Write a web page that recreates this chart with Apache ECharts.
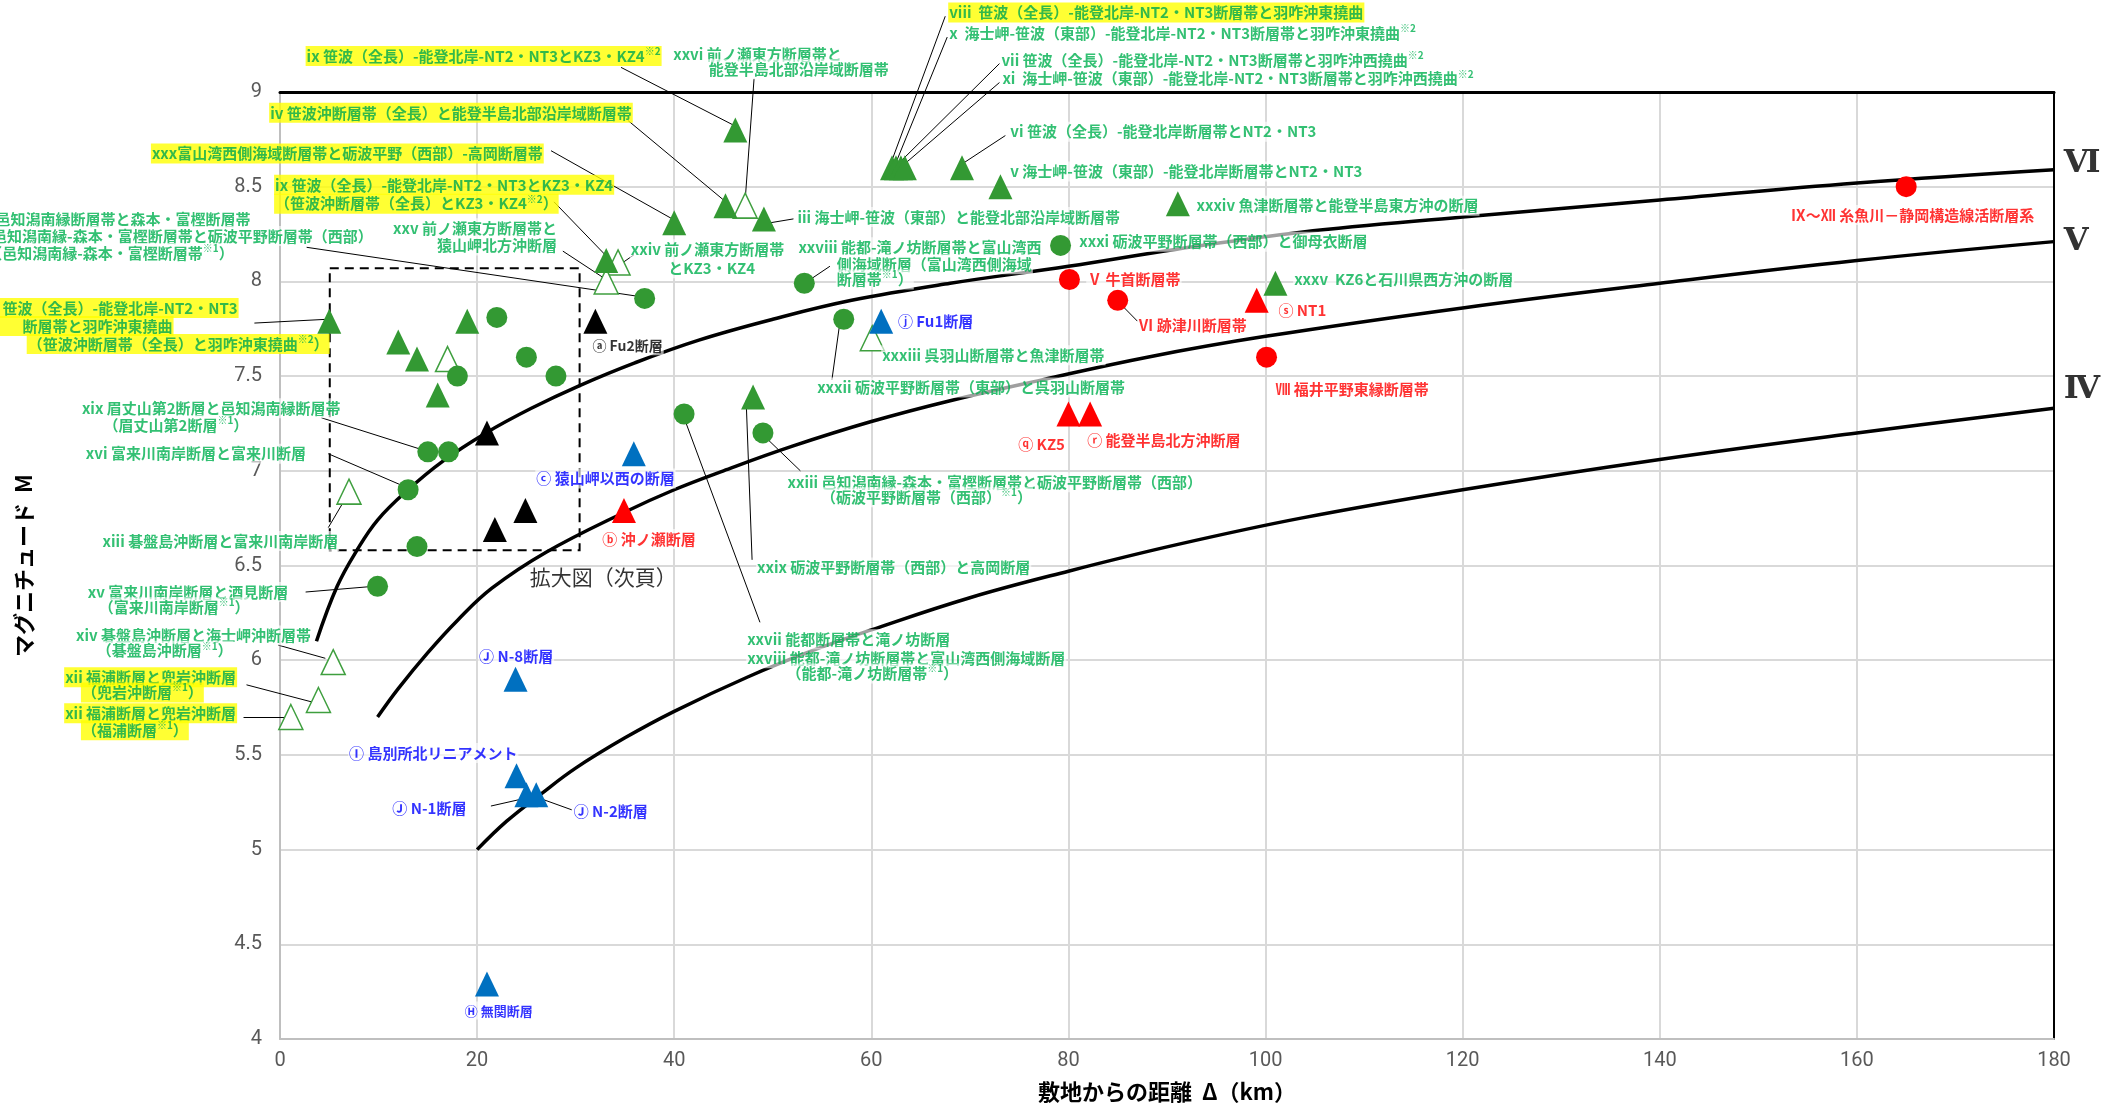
<!DOCTYPE html>
<html>
<head>
<meta charset="utf-8">
<script src="https://cdn.jsdelivr.net/npm/echarts@6/dist/echarts.min.js"></script>
<style>
  html, body { margin: 0; padding: 0; background: #fff; }
  #chart { width: 2105px; height: 1109px; }
</style>
</head>
<body>
<div id="chart"></div>
<script>
/* M-Δ図 : 検討用地震の候補（マグニチュード vs 敷地からの距離） */

var X_MIN = 0, X_MAX = 180, X_STEP = 20
var Y_MIN = 4, Y_MAX = 9, Y_STEP = 0.5

/* ── 点データ [Δ(km), M] ─────────────────────────────────────────────── */
var greenTriangles = [
  [46.2, 8.80], [62.1, 8.60], [62.5, 8.60], [63.0, 8.60], [63.4, 8.60],
  [69.2, 8.60], [73.1, 8.50], [91.1, 8.41], [40.0, 8.31], [45.2, 8.40],
  [49.1, 8.33], [33.1, 8.11], [5.0, 7.79], [12.0, 7.68], [13.9, 7.59],
  [19.0, 7.79], [16.0, 7.40], [48.0, 7.39], [101.0, 7.99]
]
var greenOpenTriangles = [
  [47.2, 8.40], [34.3, 8.10], [33.1, 8.00], [17.0, 7.59], [60.1, 7.70],
  [7.0, 6.89], [5.4, 5.99], [3.9, 5.79], [1.1, 5.70]
]
var greenCircles = [
  [79.2, 8.19], [53.2, 7.99], [57.2, 7.80], [37.0, 7.91], [22.0, 7.81],
  [25.0, 7.60], [28.0, 7.50], [18.0, 7.50], [41.0, 7.30], [49.0, 7.20],
  [15.0, 7.10], [17.1, 7.10], [13.0, 6.90], [13.9, 6.60], [9.9, 6.39]
]
var blackTriangles = [[32.0, 7.79], [21.0, 7.20], [24.9, 6.79], [21.8, 6.69]]
var blueTriangles = [
  [61.0, 7.79], [35.9, 7.09], [23.9, 5.90], [24.0, 5.39],
  [25.0, 5.29], [26.0, 5.29], [21.0, 4.29]
]
var redTriangles = [[34.9, 6.79], [80.0, 7.30], [82.2, 7.30], [99.1, 7.90]]
var redCircles = [[80.1, 8.01], [85.0, 7.90], [100.1, 7.60], [165.0, 8.50]]

/* ── 震度曲線 ──────────────────────────────────────────────────────────── */
var curveVI = [
  [3.7, 6.10], [5.8, 6.39], [7.8, 6.58], [9.9, 6.74], [13, 6.90], [16.5, 7.05],
  [20.9, 7.20], [25.5, 7.33], [30.4, 7.45], [36, 7.57], [42.5, 7.69], [50, 7.80],
  [58, 7.90], [68, 7.99], [80, 8.08], [91, 8.17], [103.6, 8.26], [120, 8.34],
  [140, 8.43], [160, 8.52], [180, 8.59]
]
var curveV = [
  [9.9, 5.70], [12, 5.85], [15, 6.04], [18, 6.21], [21.5, 6.38], [27, 6.57],
  [34.9, 6.78], [40, 6.90], [45, 7.00], [52, 7.13], [60, 7.26], [68, 7.37],
  [77.3, 7.48], [88, 7.60], [100, 7.71], [120, 7.86], [140, 7.99], [160, 8.11],
  [180, 8.21]
]
var curveIV = [
  [20, 5.00], [23, 5.15], [26.4, 5.29], [30, 5.43], [35, 5.59], [40, 5.73],
  [47.4, 5.91], [54, 6.05], [60, 6.16], [70, 6.33], [80, 6.47], [91, 6.61],
  [103.6, 6.75], [120, 6.90], [140, 7.06], [160, 7.20], [180, 7.33]
]

/* ── 引出線 [x1, y1, x2, y2] ──────────────────────────────────────────── */
var leaders = [
  [34.6, 9.13, 46.2, 8.82], [48.1, 9.07, 47.2, 8.43],
  [67.5, 9.40, 62.1, 8.64], [67.7, 9.29, 62.6, 8.64],
  [73.0, 9.15, 63.1, 8.64], [73.0, 9.05, 63.6, 8.63],
  [73.6, 8.77, 69.5, 8.63], [52.1, 8.33, 49.8, 8.31],
  [55.8, 8.08, 53.8, 8.01], [35.9, 8.14, 34.8, 8.10],
  [28.7, 8.16, 32.8, 8.02], [27.8, 8.42, 33.0, 8.14],
  [35.3, 8.85, 45.0, 8.43], [27.5, 8.69, 39.8, 8.33],
  [2.7, 8.18, 36.5, 7.92], [-2.6, 7.78, 4.8, 7.80],
  [4.2, 7.28, 14.5, 7.11], [4.9, 7.09, 12.5, 6.92],
  [4.9, 6.70, 6.6, 6.85], [2.6, 6.36, 9.5, 6.39],
  [-0.2, 6.08, 4.6, 6.01], [-3.4, 5.87, 3.2, 5.78],
  [-3.7, 5.70, 0.6, 5.70], [21.4, 5.23, 24.8, 5.27],
  [29.6, 5.21, 26.4, 5.27], [87.0, 7.79, 85.3, 7.88],
  [56.0, 7.48, 56.8, 7.78], [52.8, 7.00, 49.2, 7.18],
  [47.9, 6.53, 47.3, 7.37], [48.7, 6.20, 41.0, 7.28]
]

/* ── 注記 [Δ, M, 文字, 種類, 揃え] ────────────────────────────────────── */
var labels = [
  [2.6, 9.19, 'ix 笹波（全長）-能登北岸-NT2・NT3とKZ3・KZ4※2', 'gh'],
  [39.8, 9.20, 'xxvi 前ノ瀬東方断層帯と', 'g'],
  [43.4, 9.12, '能登半島北部沿岸域断層帯', 'g'],
  [67.8, 9.42, 'viii  笹波（全長）-能登北岸-NT2・NT3断層帯と羽咋沖東撓曲', 'gh'],
  [67.8, 9.31, 'x  海士岬-笹波（東部）-能登北岸-NT2・NT3断層帯と羽咋沖東撓曲※2', 'g'],
  [73.1, 9.17, 'vii 笹波（全長）-能登北岸-NT2・NT3断層帯と羽咋沖西撓曲※2', 'g'],
  [73.2, 9.07, 'xi  海士岬-笹波（東部）-能登北岸-NT2・NT3断層帯と羽咋沖西撓曲※2', 'g'],
  [74.0, 8.79, 'vi 笹波（全長）-能登北岸断層帯とNT2・NT3', 'g'],
  [74.0, 8.58, 'v 海士岬-笹波（東部）-能登北岸断層帯とNT2・NT3', 'g'],
  [92.9, 8.40, 'xxxiv 魚津断層帯と能登半島東方沖の断層', 'g'],
  [52.4, 8.34, 'iii 海士岬-笹波（東部）と能登北部沿岸域断層帯', 'g'],
  [81.0, 8.21, 'xxxi 砺波平野断層帯（西部）と御母衣断層', 'g'],
  [52.5, 8.18, 'xxviii 能都-滝ノ坊断層帯と富山湾西', 'g'],
  [56.4, 8.09, '側海域断層（富山湾西側海域', 'g'],
  [56.4, 8.01, '断層帯※1）', 'g'],
  [35.5, 8.17, 'xxiv 前ノ瀬東方断層帯', 'g'],
  [39.3, 8.07, 'とKZ3・KZ4', 'g'],
  [28.2, 8.28, 'xxv 前ノ瀬東方断層帯と', 'g', 'right'],
  [28.2, 8.19, '猿山岬北方沖断層', 'g', 'right'],
  [-0.6, 8.51, 'ix 笹波（全長）-能登北岸-NT2・NT3とKZ3・KZ4', 'gh'],
  [-0.6, 8.41, '（笹波沖断層帯（全長）とKZ3・KZ4※2）', 'gh'],
  [-1.1, 8.89, 'iv 笹波沖断層帯（全長）と能登半島北部沿岸域断層帯', 'gh'],
  [-13.1, 8.675, 'xxx富山湾西側海域断層帯と砺波平野（西部）-高岡断層帯', 'gh'],
  [-2.9, 8.33, '邑知潟南縁断層帯と森本・富樫断層帯', 'g', 'right'],
  [9.5, 8.24, '邑知潟南縁-森本・富樫断層帯と砺波平野断層帯（西部）', 'g', 'right'],
  [-4.6, 8.15, '（邑知潟南縁-森本・富樫断層帯※1）', 'g', 'right'],
  [-4.2, 7.86, 'ii  笹波（全長）-能登北岸-NT2・NT3', 'gh', 'right'],
  [-10.8, 7.765, '　　　断層帯と羽咋沖東撓曲', 'gh', 'right'],
  [-25.7, 7.67, '（笹波沖断層帯（全長）と羽咋沖東撓曲※2）', 'gh'],
  [-20.2, 7.33, 'xix 眉丈山第2断層と邑知潟南縁断層帯', 'g'],
  [-18.0, 7.24, '（眉丈山第2断層※1）', 'g'],
  [-19.8, 7.09, 'xvi 富来川南岸断層と富来川断層', 'g'],
  [-18.1, 6.63, 'xiii 碁盤島沖断層と富来川南岸断層', 'g'],
  [-19.6, 6.36, 'xv 富来川南岸断層と酒見断層', 'g'],
  [-18.5, 6.28, '（富来川南岸断層※1）', 'g'],
  [-20.8, 6.13, 'xiv 碁盤島沖断層と海士岬沖断層帯', 'g'],
  [-18.7, 6.05, '（碁盤島沖断層※1）', 'g'],
  [-21.9, 5.91, 'xii 福浦断層と兜岩沖断層', 'gh'],
  [-20.2, 5.83, '（兜岩沖断層※1）', 'gh'],
  [-21.9, 5.72, 'xii 福浦断層と兜岩沖断層', 'gh'],
  [-20.2, 5.63, '（福浦断層※1）', 'gh'],
  [61.0, 7.61, 'xxxiii 呉羽山断層帯と魚津断層帯', 'g'],
  [54.4, 7.44, 'xxxii 砺波平野断層帯（東部）と呉羽山断層帯', 'g'],
  [51.4, 6.94, 'xxiii 邑知潟南縁-森本・富樫断層帯と砺波平野断層帯（西部）', 'g'],
  [54.8, 6.86, '（砺波平野断層帯（西部）※1）', 'g'],
  [48.3, 6.49, 'xxix 砺波平野断層帯（西部）と高岡断層', 'g'],
  [47.3, 6.11, 'xxvii 能都断層帯と滝ノ坊断層', 'g'],
  [47.3, 6.01, 'xxviii 能都-滝ノ坊断層帯と富山湾西側海域断層', 'g'],
  [51.3, 5.93, '（能都-滝ノ坊断層帯※1）', 'g'],
  [102.8, 8.01, 'xxxv  KZ6と石川県西方沖の断層', 'g'],
  [62.6, 7.79, 'ⓙ Fu1断層', 'b'],
  [25.9, 6.96, 'ⓒ 猿山岬以西の断層', 'b'],
  [20.1, 6.02, 'Ⓙ N-8断層', 'b'],
  [6.9, 5.51, 'Ⓘ 島別所北リニアメント', 'b'],
  [11.3, 5.22, 'Ⓙ N-1断層', 'b'],
  [29.7, 5.20, 'Ⓙ N-2断層', 'b'],
  [22.2, 4.15, 'Ⓗ 無関断層', 'bs', 'center'],
  [32.6, 6.64, 'ⓑ 沖ノ瀬断層', 'r'],
  [81.8, 8.01, 'Ⅴ 牛首断層帯', 'r'],
  [87.0, 7.77, 'Ⅵ 跡津川断層帯', 'r'],
  [101.2, 7.85, 'ⓢ NT1', 'r'],
  [100.9, 7.43, 'Ⅷ 福井平野東縁断層帯', 'r'],
  [74.8, 7.14, 'ⓠ KZ5', 'r'],
  [81.8, 7.16, 'ⓡ 能登半島北方沖断層', 'r'],
  [153.2, 8.35, 'Ⅸ～Ⅻ 糸魚川－静岡構造線活断層系', 'r'],
  [31.6, 7.66, 'ⓐ Fu2断層', 'ks'],
  [32.8, 6.44, '拡大図（次頁）', 'big', 'center'],
  [181.0, 8.62, 'Ⅵ', 'roman'],
  [181.0, 8.21, 'Ⅴ', 'roman'],
  [181.0, 7.43, 'Ⅳ', 'roman']
]

var zoomBox = [[5.05, 8.07], [30.4, 6.58]]

/* ── 描画 ─────────────────────────────────────────────────────────────── */
var JP = '"Noto Sans CJK JP", sans-serif'
var WHITE = 'rgba(255,255,255,0.78)'
var KIND = {
  g:     { color: '#00b050', bg: WHITE, size: 15, weight: 'bold' },
  gh:    { color: '#00a84f', bg: '#ffff00', size: 15, weight: 'bold' },
  b:     { color: '#0000ff', bg: WHITE, size: 15, weight: 'bold' },
  bs:    { color: '#0000ff', bg: WHITE, size: 13, weight: 'bold' },
  r:     { color: '#ff0000', bg: WHITE, size: 15, weight: 'bold' },
  ks:    { color: '#000000', bg: WHITE, size: 14, weight: 'bold' },
  big:   { color: '#000000', bg: null, size: 21, weight: 'normal' },
  roman: { color: '#000000', bg: null, size: 32, font: '"DejaVu Serif", serif', weight: 'bold' }
}

var RICH = {
  s: { fontSize: 10, lineHeight: 12, verticalAlign: 'top', fontFamily: JP }
}

var labelItems = labels.map(function(l) {
  var k = KIND[l[3]]
  return {
    value: [l[0], l[1]],
    label: {
      show: true,
      position: 'inside',
      align: l[4] || 'left',
      verticalAlign: 'middle',
      color: k.color,
      fontSize: k.size,
      fontFamily: k.font || JP,
      fontWeight: k.weight,
      lineHeight: k.size + 5,
      backgroundColor: k.bg || 'transparent',
      padding: k.bg ? [0, 1] : 0,
      formatter: l[2].replace(/※(\d)/g, '{s|※$1}'),
      rich: RICH
    }
  }
})

function markers(data, symbol, size, fill, stroke) {
  return {
    type: 'scatter', data: data, symbol: symbol, symbolSize: size,
    z: 4, silent: true,
    itemStyle: { color: fill, borderColor: stroke || fill, borderWidth: stroke ? 1.5 : 0, opacity: 1 }
  }
}

function curve(data) {
  return {
    type: 'line', data: data, smooth: 0.4, showSymbol: false, symbol: 'none',
    z: 2, silent: true, lineStyle: { color: '#000', width: 3.5 }
  }
}

var chart = echarts.init(document.getElementById('chart'), null, { renderer: 'canvas' })

var axisLabel = { color: '#595959', fontSize: 20, fontFamily: 'Roboto, "Liberation Sans", sans-serif' }

chart.setOption({
  animation: false,
  backgroundColor: '#ffffff',
  grid: { left: 280, right: 51, top: 92, bottom: 70 },
  xAxis: [{
    type: 'value', min: X_MIN, max: X_MAX, interval: X_STEP,
    name: '敷地からの距離  Δ（km）', nameLocation: 'middle', nameGap: 42,
    nameTextStyle: { fontSize: 22, fontWeight: 'bold', color: '#000', fontFamily: JP },
    axisLine: { show: true, onZero: false, lineStyle: { color: '#bfbfbf', width: 2 } },
    axisTick: { show: false },
    axisLabel: Object.assign({ margin: 12 }, axisLabel),
    splitLine: { show: true, lineStyle: { color: '#d9d9d9', width: 2 } }
  }, {
    type: 'value', position: 'top', min: X_MIN, max: X_MAX,
    axisLine: { show: true, onZero: false, lineStyle: { color: '#000', width: 3 } },
    axisTick: { show: false }, axisLabel: { show: false }, splitLine: { show: false }
  }],
  yAxis: [{
    type: 'value', min: Y_MIN, max: Y_MAX, interval: Y_STEP,
    name: 'マグニチュード  M', nameLocation: 'middle', nameGap: 245,
    nameTextStyle: { fontSize: 22, fontWeight: 'bold', color: '#000', fontFamily: JP },
    axisLine: { show: true, onZero: false, lineStyle: { color: '#bfbfbf', width: 2 } },
    axisTick: { show: false },
    axisLabel: Object.assign({ margin: 18 }, axisLabel),
    splitLine: { show: true, lineStyle: { color: '#d9d9d9', width: 2 } }
  }, {
    type: 'value', position: 'right', min: Y_MIN, max: Y_MAX,
    axisLine: { show: true, onZero: false, lineStyle: { color: '#000', width: 2 } },
    axisTick: { show: false }, axisLabel: { show: false }, splitLine: { show: false }
  }],
  series: [
    curve(curveVI),
    curve(curveV),
    curve(curveIV),
    {
      type: 'lines', coordinateSystem: 'cartesian2d', clip: false, silent: true, z: 3,
      lineStyle: { color: '#000', width: 1, opacity: 1 },
      data: leaders.map(function(d) { return { coords: [[d[0], d[1]], [d[2], d[3]]] } })
    },
    markers(greenOpenTriangles, 'triangle', [24, 25], '#ffffff', '#3f9f3f'),
    markers(greenTriangles, 'triangle', [24, 25], '#339933'),
    markers(greenCircles, 'circle', 21, '#339933'),
    markers(blackTriangles, 'triangle', [24, 25], '#000000'),
    markers(blueTriangles, 'triangle', [24, 25], '#0070c0'),
    markers(redTriangles, 'triangle', [24, 25], '#ff0000'),
    markers(redCircles, 'circle', 21, '#ff0000'),
    {
      type: 'scatter', data: labelItems, symbolSize: 1, clip: false, silent: true, z: 6,
      itemStyle: { color: 'rgba(0,0,0,0)' },
      markArea: {
        silent: true,
        itemStyle: { color: 'rgba(0,0,0,0)', borderColor: '#000', borderWidth: 2, borderType: [9, 6] },
        data: [[{ coord: zoomBox[0] }, { coord: zoomBox[1] }]]
      }
    }
  ]
})

window.addEventListener('resize', function() { chart.resize() })
</script>
</body>
</html>
